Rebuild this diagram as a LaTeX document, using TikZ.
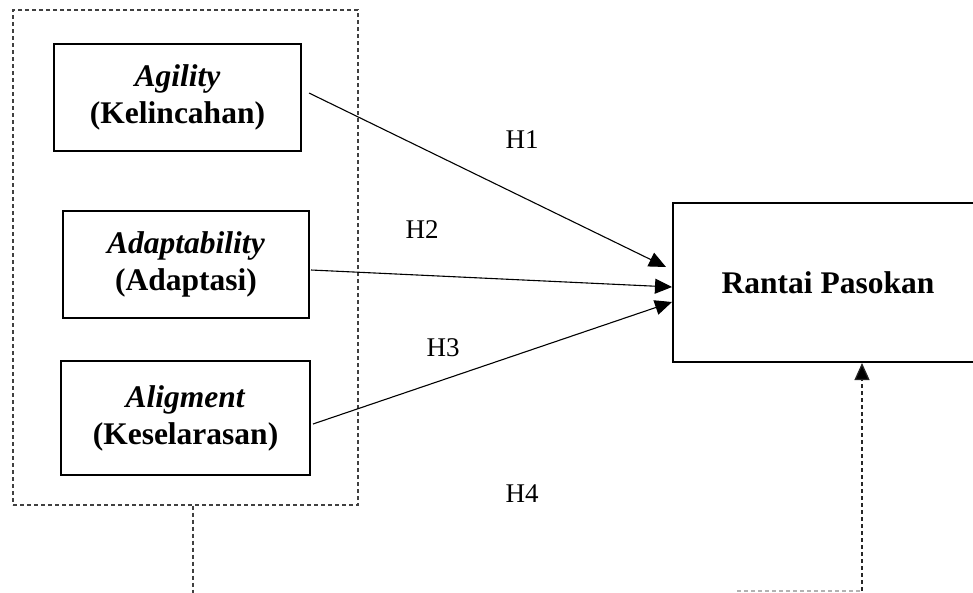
\documentclass[tikz,border=0pt]{standalone}
\usepackage{fontspec}
\setmainfont{Liberation Serif}
\usetikzlibrary{arrows.meta}
\begin{document}
\begin{tikzpicture}[x=1pt,y=-1pt,
  varbox/.style={draw,line width=2pt,align=center,inner sep=0pt,
    font=\fontsize{31.5}{37}\selectfont\bfseries},
  grpbox/.style={draw=black!75,line width=1.1pt,dash pattern=on 4pt off 3pt,inner sep=0pt},
  hlabel/.style={font=\fontsize{27}{32}\selectfont},
  conn/.style={line width=1.1pt,-{Triangle[length=17pt,width=15pt]}},
  dconn/.style={line width=1.2pt,draw=black!85,dash pattern=on 4pt off 3pt,-{Triangle[length=17pt,width=15pt,fill=black]}}
]
\useasboundingbox (0,0) rectangle (973,592);
\clip (0,0) rectangle (973,592);
\node[grpbox,minimum width=345pt,minimum height=495pt] (grp) at (185.5,257.5) {};
\node[varbox,minimum width=247pt,minimum height=107pt] (ag) at (177.5,97.5) {\textit{Agility}\\(Kelincahan)};
\node[varbox,minimum width=246pt,minimum height=107pt] (ad) at (186,264.5) {\textit{Adaptability}\\(Adaptasi)};
\node[varbox,minimum width=249pt,minimum height=114pt] (al) at (185.5,418) {\textit{Aligment}\\(Keselarasan)};
\node[varbox,minimum width=310pt,minimum height=159pt] (rp) at (828,282.5) {Rantai Pasokan};
\node[hlabel] (h1) at (522,140) {H1};
\node[hlabel] (h2) at (422,230) {H2};
\node[hlabel] (h3) at (443,348) {H3};
\node[hlabel] (h4) at (522,494) {H4};
\draw[conn] ([xshift=7pt,yshift=4.5pt]ag.east) -- ([xshift=-6pt,yshift=15.5pt]rp.west);
\draw[conn] ([xshift=1pt,yshift=-5.5pt]ad.east) -- ([yshift=-4.5pt]rp.west);
\draw[conn] ([xshift=2pt,yshift=-6pt]al.east) -- ([yshift=-19.5pt]rp.west);
\coordinate (b1) at (193,600);
\coordinate (c1) at (737,591);
\coordinate (c2) at (862,591);
\draw[line width=1.1pt,draw=black!75,dash pattern=on 4pt off 3pt] ([xshift=7.5pt]grp.south) -- (b1);
\draw[line width=1.1pt,draw=black!30,dash pattern=on 4pt off 3pt] (c1) -- (c2);
\draw[dconn] (c2) -- ([xshift=34pt]rp.south);
\end{tikzpicture}
\end{document}
